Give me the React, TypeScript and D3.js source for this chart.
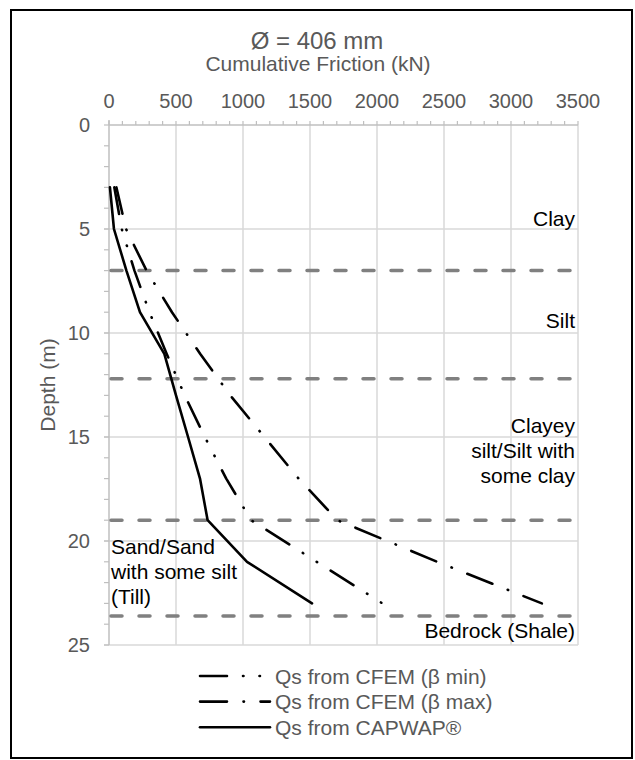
import React from 'react'
import * as d3 from 'd3'

// depth (m) of each reading and cumulative friction (kN)
const depths = [3, 5, 7, 9, 11, 13, 15, 17, 19, 21, 23]
const qsCapwap = [7, 37, 130, 231, 413, 500, 590, 679, 736, 1030, 1515]
const qsCfemMin = [40, 95, 190, 302, 430, 565, 715, 875, 1060, 1550, 2040]
const qsCfemMax = [55, 127, 280, 470, 680, 905, 1160, 1415, 1704, 2450, 3230]

// soil layer boundaries (m)
const layerBounds = [7, 12.2, 19, 23.6]

const xTicks = [0, 500, 1000, 1500, 2000, 2500, 3000, 3500]
const yTicks = [0, 5, 10, 15, 20, 25]

const legendLabels = ['Qs from CFEM (β min)', 'Qs from CFEM (β max)', 'Qs from CAPWAP®']

const font = '"Liberation Sans", Arial, sans-serif'
const grey = '#595959'

const W = 635
const H = 760

export default function App() {
  const x = d3.scaleLinear().domain([0, 3500]).range([109, 578])
  const y = d3.scaleLinear().domain([0, 25]).range([125, 645])

  const line = d3
    .line<number>()
    .x((d) => x(d))
    .y((d, i) => y(depths[i]))

  const series = [
    { vals: qsCfemMin, dash: '27 16 0.5 16 0.5 16' },
    { vals: qsCfemMax, dash: '27 16.5 0.5 16.5' },
    { vals: qsCapwap, dash: null },
  ]

  const minorX = d3.range(0, 3501, 100)
  const minorY = d3.range(0, 26, 1)

  return (
    <svg
      width={W}
      height={H}
      style={{ position: 'absolute', left: 0, top: 0, background: '#fff' }}
      fontFamily={font}
    >
      <rect x={11} y={10} width={621} height={748} fill="#fff" stroke="#000" strokeWidth={2} />

      {/* gridlines */}
      {xTicks.slice(1).map((t) => (
        <line key={'gx' + t} x1={x(t)} x2={x(t)} y1={y(0)} y2={y(25)} stroke="#d9d9d9" strokeWidth={1.5} />
      ))}
      {yTicks.slice(1).map((t) => (
        <line key={'gy' + t} x1={x(0) - 5} x2={x(3500)} y1={y(t)} y2={y(t)} stroke="#d9d9d9" strokeWidth={1.5} />
      ))}

      {/* axes */}
      <line x1={x(0)} x2={x(3500)} y1={y(0)} y2={y(0)} stroke="#bfbfbf" strokeWidth={1.5} />
      <line x1={x(0)} x2={x(0)} y1={y(0) - 5} y2={y(25)} stroke="#bfbfbf" strokeWidth={1.5} />
      {minorX.map((t) => (
        <line key={'mx' + t} x1={x(t)} x2={x(t)} y1={y(0) - 4} y2={y(0)} stroke="#bfbfbf" strokeWidth={1.2} />
      ))}
      {minorY.map((t) => (
        <line key={'my' + t} x1={x(0) - 5} x2={x(0)} y1={y(t)} y2={y(t)} stroke="#bfbfbf" strokeWidth={1.2} />
      ))}

      {xTicks.map((t) => (
        <text key={'tx' + t} x={x(t)} y={108} textAnchor="middle" fontSize={20} fill={grey}>
          {t}
        </text>
      ))}
      {yTicks.map((t) => (
        <text key={'ty' + t} x={90} y={y(t)} dy="0.36em" textAnchor="end" fontSize={20} fill={grey}>
          {t}
        </text>
      ))}

      <text x={317} y={49} textAnchor="middle" fontSize={24} fill={grey}>
        Ø = 406 mm
      </text>
      <text x={318} y={71} textAnchor="middle" fontSize={21} fill={grey}>
        Cumulative Friction (kN)
      </text>
      <text
        transform={`translate(55,${(y(0) + y(25)) / 2}) rotate(-90)`}
        textAnchor="middle"
        fontSize={21}
        fill={grey}
      >
        Depth (m)
      </text>

      {/* layer boundaries */}
      {layerBounds.map((d) => (
        <line
          key={'lb' + d}
          x1={x(0) + 2}
          x2={x(3500) - 6}
          y1={y(d)}
          y2={y(d)}
          stroke="#808080"
          strokeWidth={3.5}
          strokeDasharray="11 17"
          strokeLinecap="round"
        />
      ))}

      {/* layer names */}
      <g fontSize={21} fill="#000">
        <text x={575} y={226} textAnchor="end">Clay</text>
        <text x={575} y={328} textAnchor="end">Silt</text>
        <text x={575} y={433} textAnchor="end">Clayey</text>
        <text x={575} y={458} textAnchor="end">silt/Silt with</text>
        <text x={575} y={483} textAnchor="end">some clay</text>
        <text x={111} y={554}>Sand/Sand</text>
        <text x={111} y={579}>with some silt</text>
        <text x={111} y={604}>(Till)</text>
        <text x={575} y={638} textAnchor="end">Bedrock (Shale)</text>
      </g>

      {/* series */}
      {series.map((s, i) => (
        <path
          key={'s' + i}
          d={line(s.vals) || ''}
          fill="none"
          stroke="#000"
          strokeWidth={2.6}
          strokeLinecap="round"
          strokeLinejoin="round"
          strokeDasharray={s.dash || undefined}
        />
      ))}

      {/* legend */}
      {series.map((s, i) => {
        const ly = 676 + i * 25.6
        return (
          <g key={'lg' + i}>
            <line
              x1={200}
              x2={270}
              y1={ly}
              y2={ly}
              stroke="#000"
              strokeWidth={2.6}
              strokeLinecap="round"
              strokeDasharray={s.dash || undefined}
            />
            <text x={275} y={ly} dy="0.36em" fontSize={21} fill={grey}>
              {legendLabels[i]}
            </text>
          </g>
        )
      })}
    </svg>
  )
}
